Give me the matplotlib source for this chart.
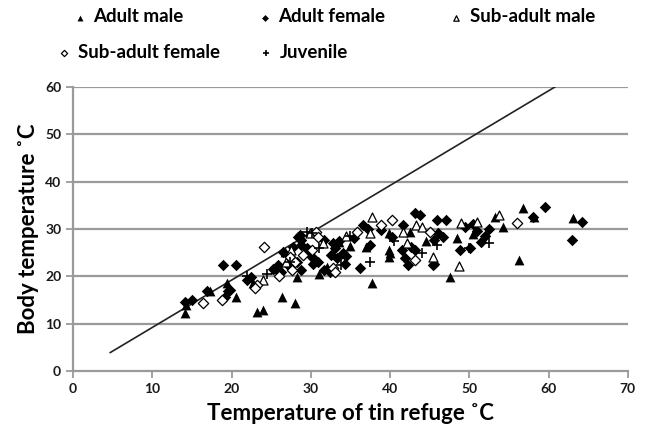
import matplotlib
matplotlib.use("Agg")
import matplotlib.pyplot as plt

plt.rcParams['font.family'] = ['Lato', 'DejaVu Sans']

# ---- data (tin temperature, body temperature) ----
adult_male = [
    (14.1, 12.3), (14.3, 14.0), (17.3, 16.8), (19.4, 18.5), (20.6, 15.7), (22.7, 18.5),
    (23.2, 12.5), (24.0, 12.9), (26.4, 15.7), (28.0, 14.4), (28.2, 19.9), (26.7, 25.2),
    (25.5, 21.5), (29.9, 25.6), (32.0, 22.0), (33.5, 27.2), (37.7, 18.5), (37.0, 26.3),
    (39.8, 25.6), (39.8, 24.1), (40.0, 24.9), (39.8, 29.1), (42.5, 29.4), (44.5, 27.5),
    (47.5, 19.9), (48.5, 28.0), (50.5, 29.0), (53.2, 32.6), (54.3, 30.5), (56.8, 34.4),
    (58.1, 32.5), (56.2, 23.5), (63.1, 32.3), (35.0, 26.5), (31.0, 20.5),
]
adult_female = [
    (14.1, 14.6), (15.0, 15.0), (16.9, 16.8), (18.95, 22.4), (20.55, 22.4), (19.6, 16.8),
    (19.2, 15.7), (19.8, 17.1), (21.9, 19.2), (22.5, 19.9), (25.2, 21.5), (25.8, 22.3),
    (26.3, 21.0), (27.0, 22.5), (26.5, 25.2), (27.8, 26.3), (28.8, 26.6), (28.6, 28.7),
    (30.1, 24.1), (30.3, 22.7), (28.4, 28.4), (28.8, 27.7), (30.3, 23.8), (30.9, 23.1),
    (31.6, 21.3), (32.4, 21.0), (31.6, 27.7), (32.8, 27.0), (33.3, 23.8), (28.2, 23.1),
    (28.8, 21.3), (36.6, 30.8), (37.2, 30.1), (38.9, 29.8), (40.2, 28.4), (41.6, 30.8),
    (43.1, 33.3), (43.8, 33.0), (33.0, 26.0), (33.5, 27.5), (34.0, 25.0), (32.5, 24.5),
    (34.5, 24.2), (34.3, 22.7), (36.2, 21.7), (37.5, 26.6), (41.5, 25.6), (41.9, 23.8),
    (42.3, 22.4), (42.7, 26.3), (43.1, 25.6), (45.6, 27.7), (46.1, 29.1), (48.8, 25.6),
    (50.1, 25.9), (45.6, 22.7), (45.9, 31.9), (47.1, 31.9), (46.7, 28.4), (49.5, 30.5),
    (50.5, 31.0), (51.0, 29.5), (52.0, 28.5), (52.5, 30.0), (51.5, 27.3), (58.0, 32.6),
    (59.6, 34.6), (64.2, 31.5), (62.9, 27.7), (45.4, 22.4), (35.5, 28.0), (29.5, 26.0),
]
subadult_male = [
    (24.0, 19.2), (26.9, 23.1), (29.9, 29.1), (37.7, 32.6), (37.5, 29.1), (41.6, 29.4),
    (43.3, 30.8), (44.0, 30.5), (42.1, 27.0), (45.4, 24.1), (48.7, 22.2), (49.0, 31.2),
    (50.9, 31.5), (53.8, 33.0), (31.5, 27.0), (34.5, 28.5), (27.5, 25.5),
]
subadult_female = [
    (16.4, 14.4), (18.8, 15.0), (23.2, 18.2), (24.1, 26.1), (23.0, 17.5), (27.4, 24.1),
    (28.0, 23.1), (27.6, 21.3), (30.7, 29.4), (30.9, 28.4), (30.1, 25.6), (32.8, 21.7),
    (33.0, 21.0), (35.8, 29.4), (38.9, 30.8), (40.2, 31.9), (43.1, 23.5), (45.0, 29.4),
    (56.0, 31.2), (26.0, 20.0), (29.0, 24.5),
]
juvenile = [
    (27.4, 23.1), (29.5, 29.4), (30.1, 29.1), (37.5, 23.1), (45.9, 26.6), (24.5, 20.5),
    (31.0, 26.0), (35.0, 28.5), (40.5, 27.5), (44.0, 25.0), (50.0, 26.0), (52.5, 27.0),
    (22.0, 20.0), (33.8, 22.3),
]
line_x = [4.7, 60.8]
line_y = [3.9, 60.0]

W, H = 649, 437
fig = plt.figure(figsize=(W / 100, H / 100), dpi=100)
ax = fig.add_axes([0.1125, 0.151, 0.855, 0.650])

def xy(pts):
    return [p[0] for p in pts], [p[1] for p in pts]

for y in range(10, 61, 10):
    ax.axhline(y, color="#9a9a9a", lw=1.6, zorder=0)

ax.plot(line_x, line_y, color="#222222", lw=1.2, zorder=1)

h_am = ax.scatter(*xy(adult_male), marker="^", s=50, c="black", lw=0, zorder=3)
h_af = ax.scatter(*xy(adult_female), marker="D", s=34, c="black", lw=0, zorder=3)
h_sam = ax.scatter(*xy(subadult_male), marker="^", s=42, facecolors="white", edgecolors="black",
                   lw=0.9, zorder=4)
h_saf = ax.scatter(*xy(subadult_female), marker="D", s=28, facecolors="white", edgecolors="black",
                   lw=0.9, zorder=4)
h_j = ax.scatter(*xy(juvenile), marker="+", s=42, c="black", lw=1.2, zorder=4)

ax.set_xlim(0, 70)
ax.set_ylim(0, 60)
ax.set_xticks(range(0, 71, 10))
ax.set_yticks(range(0, 61, 10))
for s in ["top", "right"]:
    ax.spines[s].set_visible(False)
for s in ["left", "bottom"]:
    ax.spines[s].set_color("#9a9a9a")
    ax.spines[s].set_linewidth(1.6)
ax.tick_params(axis="both", colors="#9a9a9a", width=1.3, length=5, direction="out",
               labelcolor="#1a1a1a", labelsize=10)
for lab in ax.get_xticklabels() + ax.get_yticklabels():
    lab.set_fontweight("bold")

ax.set_xlabel("Temperature of tin refuge \u02daC", fontsize=16, fontweight="bold", labelpad=6)
ax.set_ylabel("Body temperature \u02daC", fontsize=16, fontweight="bold", labelpad=4)

# legend entries laid out like the original (one small legend per entry)
entries = [
    (h_am, "Adult male", 72, 17),
    (h_af, "Adult female", 257, 17),
    (h_sam, "Sub-adult male", 448, 17),
    (h_saf, "Sub-adult female", 56, 52),
    (h_j, "Juvenile", 258, 52),
]
for handle, text, px, py in entries:
    fig.legend([handle], [text], loc="center left", bbox_to_anchor=(px / W, 1 - py / H),
               frameon=False, borderpad=0, borderaxespad=0, handlelength=0.8,
               handletextpad=0.35, markerscale=0.6, prop={"weight": "bold", "size": 13.5})

fig.savefig("out.png", dpi=100, facecolor="white")
